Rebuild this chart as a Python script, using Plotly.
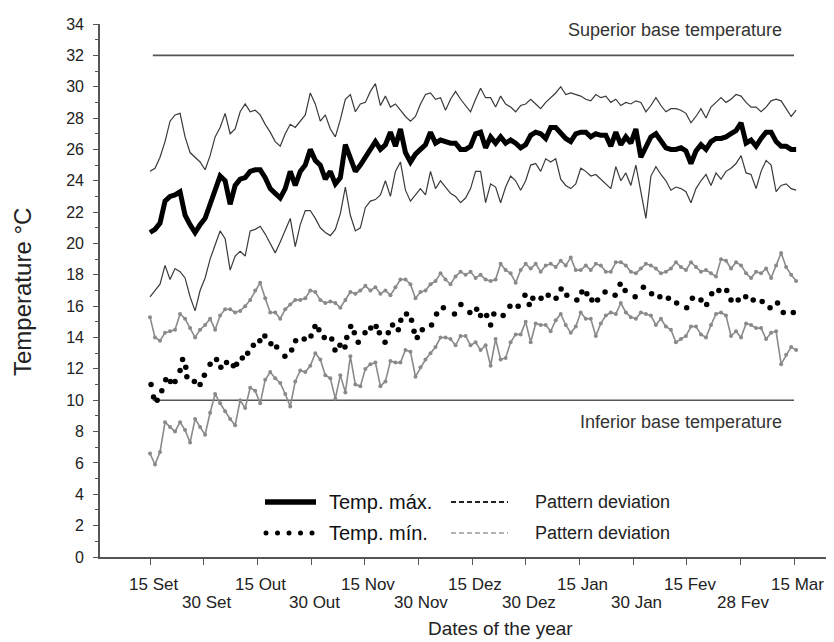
import numpy as np
import plotly.graph_objects as go

# ---------------- data ----------------
DAY_STEP = 1.4  # days between samples of the daily series (day 0 = 15 Set)

TICK_DAYS = [0, 15, 30, 45, 60, 75, 90, 105, 120, 135, 150, 165, 180]
TICK_LABELS = ["15 Set", "30 Set", "15 Out", "30 Out", "15 Nov", "30 Nov", "15 Dez",
               "30 Dez", "15 Jan", "30 Jan", "15 Fev", "28 Fev", "15 Mar"]

SUPERIOR_BASE = 32
INFERIOR_BASE = 10

MAX_T = [20.7, 20.9, 21.3, 22.7, 23.0, 23.1, 23.3, 21.8, 21.2, 20.7,
         21.2, 21.6, 22.5, 23.4, 24.3, 24.0, 22.5, 23.7, 24.1, 24.2,
         24.6, 24.7, 24.7, 24.2, 23.5, 23.2, 22.9, 23.5, 24.6, 23.7,
         24.6, 25.0, 26.0, 25.3, 25.0, 24.1, 24.6, 23.8, 24.2, 26.3,
         25.4, 24.6, 25.0, 25.5, 26.0, 26.5, 26.0, 26.3, 27.1, 26.2,
         27.3, 25.8, 25.2, 25.7, 26.0, 26.3, 27.1, 26.4, 26.6, 26.5,
         26.4, 26.4, 26.0, 26.0, 26.2, 27.0, 27.1, 26.1, 26.8, 26.4,
         26.8, 26.4, 26.6, 26.4, 26.1, 26.3, 26.9, 27.1, 27.0, 26.7,
         27.4, 27.4, 27.0, 26.7, 26.5, 27.0, 27.1, 27.1, 26.8, 27.0,
         26.9, 26.9, 26.2, 27.1, 26.3, 26.8, 26.4, 27.3, 25.5, 26.2,
         26.8, 27.0, 26.6, 26.1, 26.0, 26.0, 26.1, 25.9, 25.1, 25.9,
         26.3, 26.0, 26.5, 26.7, 26.7, 26.8, 27.0, 27.2, 27.7, 26.4,
         26.6, 26.2, 26.7, 27.1, 27.1, 26.5, 26.2, 26.2, 26.0, 26.0]

MAX_SD_HI = [24.6, 24.8, 25.5, 26.5, 27.8, 28.2, 28.3, 26.8, 25.8, 25.5,
             25.2, 24.7, 25.6, 26.8, 27.4, 28.3, 27.0, 27.3, 28.4, 28.9,
             28.4, 28.5, 28.2, 27.6, 27.1, 26.5, 26.2, 27.0, 27.6, 27.4,
             27.8, 28.2, 29.6, 28.9, 27.8, 28.2, 27.3, 26.8, 27.9, 29.2,
             29.5, 28.4, 28.9, 29.0, 29.7, 30.2, 28.8, 29.4, 28.7, 28.9,
             28.5, 28.1, 27.8, 28.1, 28.9, 29.5, 29.6, 29.2, 29.3, 28.5,
             29.2, 29.7, 29.2, 28.8, 28.4, 29.2, 29.9, 29.3, 29.3, 28.7,
             29.4, 28.9, 28.7, 28.4, 28.8, 28.9, 29.2, 28.9, 28.6, 29.0,
             29.3, 29.6, 30.0, 29.5, 29.6, 29.5, 29.4, 29.2, 29.1, 29.5,
             29.3, 29.4, 29.0, 29.2, 28.8, 29.0, 28.9, 29.1, 29.0, 28.4,
             28.8, 29.3, 28.8, 28.4, 28.6, 28.6, 28.5, 28.3, 27.7, 28.1,
             28.6, 28.0, 28.7, 29.0, 29.3, 29.0, 29.2, 29.5, 29.4, 29.0,
             28.7, 28.7, 28.4, 28.7, 29.1, 29.2, 29.1, 28.6, 28.1, 28.5]

MAX_SD_LO = [16.6, 17.0, 17.4, 18.6, 17.7, 18.4, 18.2, 17.8, 16.6, 15.7,
             17.0, 17.8, 19.0, 19.9, 20.8, 20.3, 18.3, 19.2, 19.5, 19.2,
             20.8, 20.9, 21.1, 20.6, 20.0, 19.4, 20.1, 20.9, 21.6, 19.8,
             21.2, 22.1, 22.1, 21.6, 21.0, 20.7, 20.5, 20.9, 21.9, 23.6,
             21.8, 20.8, 21.0, 22.3, 22.7, 22.8, 23.1, 24.0, 23.0, 24.6,
             25.2, 23.4, 22.7, 23.1, 23.5, 23.1, 24.6, 23.5, 24.0, 23.6,
             23.2, 23.0, 22.6, 22.9, 23.5, 24.6, 24.6, 22.6, 23.8, 23.6,
             22.6, 23.6, 24.3, 24.0, 23.4, 24.0, 25.0, 25.1, 24.6, 25.4,
             25.2, 25.4, 24.1, 23.7, 23.5, 23.8, 24.8, 24.6, 24.3, 24.4,
             24.1, 23.8, 23.5, 24.9, 24.0, 24.5, 23.7, 25.0, 23.2, 21.6,
             24.3, 24.9, 24.4, 24.0, 23.4, 23.6, 23.5, 23.3, 22.6, 23.5,
             24.0, 24.4, 23.7, 24.5, 24.1, 24.6, 24.8, 25.1, 25.6, 24.5,
             24.4, 23.5, 24.6, 25.3, 25.0, 23.3, 23.7, 23.8, 23.5, 23.4]

MIN_SD_HI = [15.3, 14.0, 13.8, 14.3, 14.4, 14.5, 15.5, 15.2, 14.6, 14.0,
             14.5, 14.8, 15.2, 14.5, 15.4, 15.8, 15.8, 15.6, 15.7, 16.0,
             16.4, 17.0, 17.5, 16.5, 15.6, 15.6, 15.2, 15.8, 16.1, 16.4,
             16.4, 16.5, 17.0, 16.9, 16.4, 16.2, 16.3, 16.2, 15.9, 16.4,
             16.9, 16.8, 17.0, 17.3, 17.0, 17.2, 16.8, 17.0, 16.7, 17.2,
             17.7, 17.7, 17.4, 16.5, 16.9, 17.0, 17.4, 17.6, 18.1, 17.7,
             17.4, 17.9, 18.2, 18.0, 18.2, 17.8, 18.0, 17.7, 17.6, 17.7,
             18.7, 18.3, 18.1, 17.5, 18.3, 18.7, 18.4, 18.7, 18.2, 18.6,
             18.7, 18.5, 18.9, 18.6, 19.1, 18.3, 18.3, 18.6, 18.3, 18.7,
             18.6, 18.2, 18.2, 18.8, 18.8, 18.6, 18.2, 18.1, 18.4, 18.7,
             18.6, 18.4, 18.1, 18.2, 18.4, 18.8, 18.5, 18.3, 18.8, 18.5,
             18.2, 18.3, 18.1, 17.9, 19.0, 18.9, 18.4, 18.8, 18.6, 18.1,
             17.8, 18.2, 18.1, 18.4, 17.8, 18.6, 19.4, 18.5, 18.0, 17.6]

MIN_SD_LO = [6.6, 5.9, 6.7, 8.6, 8.3, 8.0, 8.6, 8.1, 7.3, 8.8,
             8.3, 7.8, 9.2, 10.4, 9.8, 9.3, 8.8, 8.4, 10.0, 9.5,
             10.8, 10.6, 9.8, 11.3, 11.8, 11.4, 11.1, 10.4, 9.6, 11.2,
             11.9, 11.8, 12.2, 13.0, 12.6, 11.6, 11.4, 10.1, 11.6, 10.5,
             12.8, 11.0, 10.9, 12.0, 12.3, 12.4, 10.9, 11.2, 12.5, 12.4,
             12.4, 13.2, 13.1, 11.5, 12.1, 12.6, 13.0, 13.4, 14.0, 14.0,
             13.9, 13.5, 14.1, 14.1, 13.5, 13.7, 13.2, 13.5, 12.2, 13.9,
             12.6, 12.7, 13.7, 14.2, 14.2, 15.0, 13.7, 14.9, 14.8, 14.8,
             14.4, 15.1, 15.5, 14.8, 14.3, 14.7, 15.6, 15.2, 15.2, 14.1,
             14.9, 15.4, 15.6, 15.5, 16.2, 15.6, 15.3, 15.2, 15.6, 15.5,
             15.4, 14.8, 15.2, 14.7, 14.5, 13.7, 13.9, 14.1, 14.7, 14.7,
             14.2, 14.0, 14.8, 15.5, 15.6, 15.4, 14.1, 14.4, 14.0, 14.9,
             14.8, 14.6, 14.6, 13.9, 14.3, 14.4, 12.3, 12.9, 13.4, 13.2]

MIN_DAYS = [0.3, 1.0, 2.0, 3.3, 4.4, 5.7, 7.0, 8.4, 9.1, 10.0, 10.3, 12.4, 14.0, 15.2,
            16.8, 18.6, 19.8, 21.4, 23.3, 24.2, 25.8, 27.3, 28.9, 30.7, 32.1, 33.8,
            35.4, 37.7, 39.6, 40.7, 43.1, 45.0, 46.1, 47.2, 48.7, 50.8, 51.7, 53.1,
            54.5, 55.0, 56.1, 57.1, 58.2, 60.1, 61.7, 63.2, 64.1, 65.7, 66.6, 67.8,
            69.4, 70.1, 71.7, 73.1, 73.8, 74.7, 76.1, 78.7, 80.1, 82.0, 85.1, 86.9,
            89.4, 91.3, 92.4, 94.1, 95.2, 96.1, 98.7, 100.6, 102.9, 104.8, 106.0,
            107.0, 109.3, 111.3, 113.5, 114.9, 116.5, 119.3, 120.7, 122.1, 123.5,
            125.1, 127.2, 130.0, 131.4, 132.8, 135.6, 137.9, 140.2, 142.5, 144.9,
            147.2, 150.0, 151.6, 154.0, 155.6, 157.0, 159.0, 161.2, 162.4, 164.4,
            166.5, 168.6, 171.1, 173.3, 175.4, 177.0, 179.8]
MIN_T = [11.0, 10.2, 10.0, 10.6, 11.3, 11.2, 11.2, 11.9, 12.6, 12.1, 11.5, 11.2, 11.0, 11.6,
         12.3, 12.6, 12.1, 12.4, 12.2, 12.3, 12.7, 13.0, 13.5, 13.8, 14.1, 13.6,
         13.4, 12.8, 13.2, 13.8, 13.9, 14.1, 14.7, 14.5, 14.0, 13.9, 13.2, 13.5,
         13.4, 14.0, 14.7, 14.3, 13.7, 14.3, 14.6, 14.7, 14.3, 13.7, 14.3, 14.8,
         14.5, 15.1, 15.5, 15.1, 14.4, 14.0, 14.5, 14.8, 15.5, 15.9, 15.5, 16.1,
         15.6, 15.8, 15.4, 15.4, 14.8, 15.5, 15.4, 16.0, 16.0, 16.7, 16.1,
         16.5, 16.5, 16.7, 16.5, 17.1, 16.7, 16.4, 16.9, 16.8, 16.4,
         16.4, 16.9, 16.7, 17.4, 17.0, 16.6, 17.2, 16.8, 16.6, 16.5,
         16.2, 15.9, 16.5, 16.4, 16.1, 16.8, 17.0, 17.0, 16.4, 16.4,
         16.6, 16.4, 16.3, 15.9, 16.2, 15.6, 15.6]

# ---------------- figure ----------------
FONT = "Arial, 'Liberation Sans', sans-serif"


def days(arr):
    return np.arange(len(arr)) * DAY_STEP


fig = go.Figure()

# reference base temperatures
for base in (SUPERIOR_BASE, INFERIOR_BASE):
    fig.add_trace(go.Scatter(x=[TICK_DAYS[0] + 0.8, TICK_DAYS[-1]], y=[base, base], mode="lines",
                             line=dict(color="#555555", width=1.6), hoverinfo="skip"))

# pattern deviations of maximum temperature
for arr in (MAX_SD_HI, MAX_SD_LO):
    fig.add_trace(go.Scatter(x=days(arr), y=arr, mode="lines",
                             line=dict(color="#3a3a3a", width=1.2)))

# pattern deviations of minimum temperature
for arr in (MIN_SD_HI, MIN_SD_LO):
    fig.add_trace(go.Scatter(x=days(arr), y=arr, mode="lines+markers",
                             line=dict(color="#8a8a8a", width=1.6),
                             marker=dict(color="#8a8a8a", size=4)))

# maximum temperature
fig.add_trace(go.Scatter(x=days(MAX_T), y=MAX_T, mode="lines",
                         line=dict(color="black", width=5)))

# minimum temperature
fig.add_trace(go.Scatter(x=MIN_DAYS, y=MIN_T, mode="markers",
                         marker=dict(color="black", size=5.5)))

# ---------------- layout ----------------
# the page body adds an 8 px offset; margins place the plot area at page
# pixels x 100..834, y 24..557
OFF = 8
W, H = 834, 642
ML, MR, MT, MB = 92, 8, 16, 93
PW, PH = W - ML - MR, H - MT - MB
PX_PER_DAY = 644 / 180.0
X0_PAGE = 150  # page x of day 0
XR = [(ML + OFF - X0_PAGE) / PX_PER_DAY, (ML + OFF - X0_PAGE + PW) / PX_PER_DAY]


def px(xpage):
    return (xpage - OFF - ML) / PW


def py(ypage):
    return (H - MB - (ypage - OFF)) / PH


def note(xp, yp, text, size, color="#222", anchor="left", angle=0):
    return dict(x=px(xp), y=py(yp), xref="paper", yref="paper", text=text,
                xanchor=anchor, yanchor="middle", textangle=angle, showarrow=False,
                font=dict(family=FONT, size=size, color=color))


annotations = []
for i, (d, lab) in enumerate(zip(TICK_DAYS, TICK_LABELS)):
    annotations.append(dict(x=d, y=0, xref="x", yref="paper", text=lab, showarrow=False,
                            xanchor="center", yanchor="middle",
                            yshift=-27 if i % 2 == 0 else -45, xshift=3,
                            font=dict(family=FONT, size=17, color="#222")))

annotations += [
    note(22, 292, "Temperature °C", 24, anchor="center", angle=-90),
    note(500, 628, "Dates of the year", 19, anchor="center"),
    note(784, 30, "Superior base temperature", 18, color="#333", anchor="right"),
    note(784, 422, "Inferior base temperature", 18, color="#333", anchor="right"),
    note(327, 502, "Temp. máx.", 20, color="#111"),
    note(327, 533, "Temp. mín.", 20, color="#111"),
    note(533, 502, "Pattern deviation", 18),
    note(533, 533, "Pattern deviation", 18),
]

shapes = [
    dict(type="line", xref="paper", yref="paper", x0=px(265), x1=px(316), y0=py(502), y1=py(502),
         line=dict(color="black", width=5.5)),
    dict(type="line", xref="paper", yref="paper", x0=px(451), x1=px(508), y0=py(502), y1=py(502),
         line=dict(color="#222", width=2.2, dash="5px,3px")),
    dict(type="line", xref="paper", yref="paper", x0=px(451), x1=px(508), y0=py(533), y1=py(533),
         line=dict(color="#999", width=1.6, dash="5px,3px")),
]
for cx in (266, 277.5, 289, 300.5, 312):
    shapes.append(dict(type="circle", xref="paper", yref="paper",
                       x0=px(cx - 2.5), x1=px(cx + 2.5), y0=py(533 + 2.5), y1=py(533 - 2.5),
                       fillcolor="black", line=dict(width=0)))

fig.update_layout(
    width=W, height=H,
    margin=dict(l=ML, r=MR, t=MT, b=MB),
    paper_bgcolor="white", plot_bgcolor="white",
    showlegend=False,
    font=dict(family=FONT, color="#222"),
    annotations=annotations,
    shapes=shapes,
    xaxis=dict(range=XR, tickvals=TICK_DAYS, showticklabels=False,
               ticks="outside", ticklen=6, tickcolor="#555", tickwidth=1.2,
               showline=True, linecolor="#555", linewidth=1.6,
               showgrid=False, zeroline=False),
    yaxis=dict(range=[0, 34], tickvals=list(range(0, 35, 2)), ticks="outside", ticklen=5,
               tickcolor="#555", tickwidth=1.2, ticklabelstandoff=6,
               minor=dict(tickvals=list(range(1, 34, 2)), ticks="outside", ticklen=3,
                          tickcolor="#555", tickwidth=1),
               showline=True, linecolor="#555", linewidth=1.6,
               showgrid=False, zeroline=False,
               tickfont=dict(family=FONT, size=16, color="#222")),
)

fig.write_html("out.html")
